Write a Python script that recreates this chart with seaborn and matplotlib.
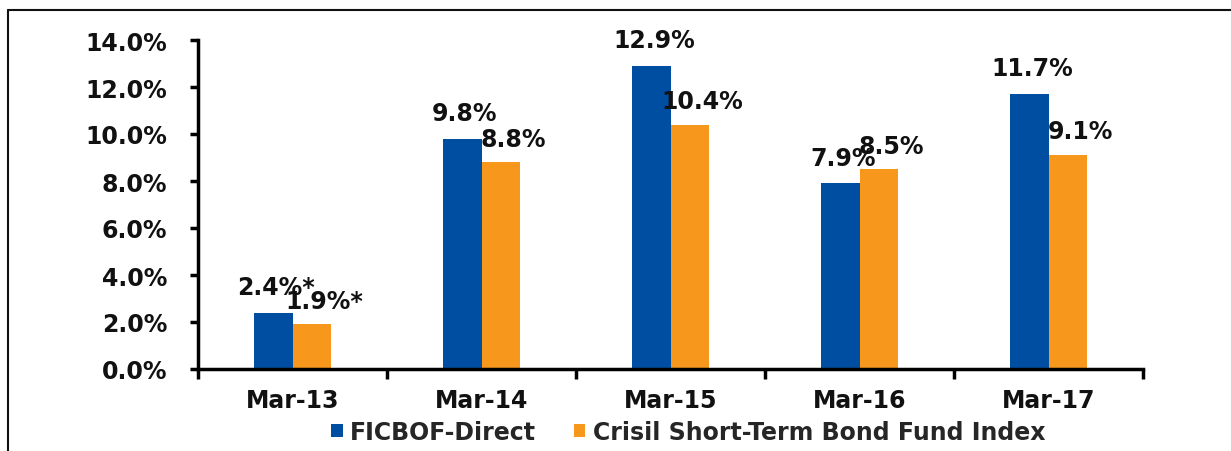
import matplotlib
matplotlib.use("Agg")
import matplotlib.pyplot as plt
from matplotlib.lines import Line2D
from matplotlib.ticker import FuncFormatter, FixedLocator
import seaborn as sns
import pandas as pd

# donnees
periods = ["Mar-13", "Mar-14", "Mar-15", "Mar-16", "Mar-17"]
series_names = ["FICBOF-Direct", "Crisil Short-Term Bond Fund Index"]
fund_values = [2.4, 9.8, 12.9, 7.9, 11.7]
index_values = [1.9, 8.8, 10.4, 8.5, 9.1]
fund_labels = ["2.4%*", "9.8%", "12.9%", "7.9%", "11.7%"]
index_labels = ["1.9%*", "8.8%", "10.4%", "8.5%", "9.1%"]

colors = ["#004EA2", "#F7981D"]

df = pd.DataFrame({
    "period": periods * 2,
    "series": [series_names[0]] * 5 + [series_names[1]] * 5,
    "value": fund_values + index_values,
})

sns.set_style("white")
plt.rcParams["font.family"] = ["DejaVu Sans"]
plt.rcParams["font.weight"] = "bold"

fig = plt.figure(figsize=(12.31, 4.52), dpi=100)
ax = fig.add_axes([198 / 1231, 82 / 452, 945 / 1231, 329 / 452])

sns.barplot(data=df, x="period", y="value", hue="series", palette=colors,
            width=0.41, saturation=1, linewidth=0, ax=ax)

ax.set_xlim(-0.5, 4.5)
ax.set_ylim(0, 14)
ax.set_yticks(range(0, 15, 2))
ax.yaxis.set_major_formatter(FuncFormatter(lambda v, p: f"{v:.1f}%"))
ax.set_xlabel("")
ax.set_ylabel("")

# ticks de categories entre les groupes
ax.xaxis.set_minor_locator(FixedLocator([i - 0.5 for i in range(6)]))
ax.tick_params(axis="x", which="major", length=0, pad=14, labelsize=17)
ax.tick_params(axis="x", which="minor", length=7, width=2.5, direction="out",
               bottom=True, color="black")
ax.tick_params(axis="y", length=6, width=2.5, direction="out", left=True,
               pad=16, labelsize=17, color="black")
for lab in ax.get_xticklabels() + ax.get_yticklabels():
    lab.set_fontweight("bold")
    lab.set_color("#111111")

for side in ["top", "right"]:
    ax.spines[side].set_visible(False)
for side in ["left", "bottom"]:
    ax.spines[side].set_linewidth(2.5)
    ax.spines[side].set_color("black")

# etiquettes de valeurs
label_sets = [fund_labels, index_labels]
offsets = [(2, 13.5), (9, 12)]
for cont, labels, (dx, dy) in zip(ax.containers, label_sets, offsets):
    for bar, txt in zip(cont, labels):
        ax.annotate(txt, (bar.get_x() + bar.get_width() / 2, bar.get_height()),
                    xytext=(dx, dy), textcoords="offset points",
                    ha="center", va="baseline", fontsize=17,
                    fontweight="bold", color="#111111")

handles, _ = ax.get_legend_handles_labels()
ax.legend(handles, series_names, loc="center",
          bbox_to_anchor=(688 / 1231, 19 / 452), bbox_transform=fig.transFigure,
          ncol=2, frameon=False, handlelength=0.5, handleheight=0.5,
          handletextpad=0.3, columnspacing=1.6,
          prop={"size": 17, "weight": "bold"})

# cadre exterieur
fig.add_artist(Line2D([7.5 / 1231, 1], [1 - 10.5 / 452] * 2, color="#111111", lw=1.5,
                      transform=fig.transFigure))
fig.add_artist(Line2D([7.5 / 1231] * 2, [0, 1 - 10.5 / 452], color="#111111", lw=1.5,
                      transform=fig.transFigure))

fig.savefig("out.png", dpi=100)
